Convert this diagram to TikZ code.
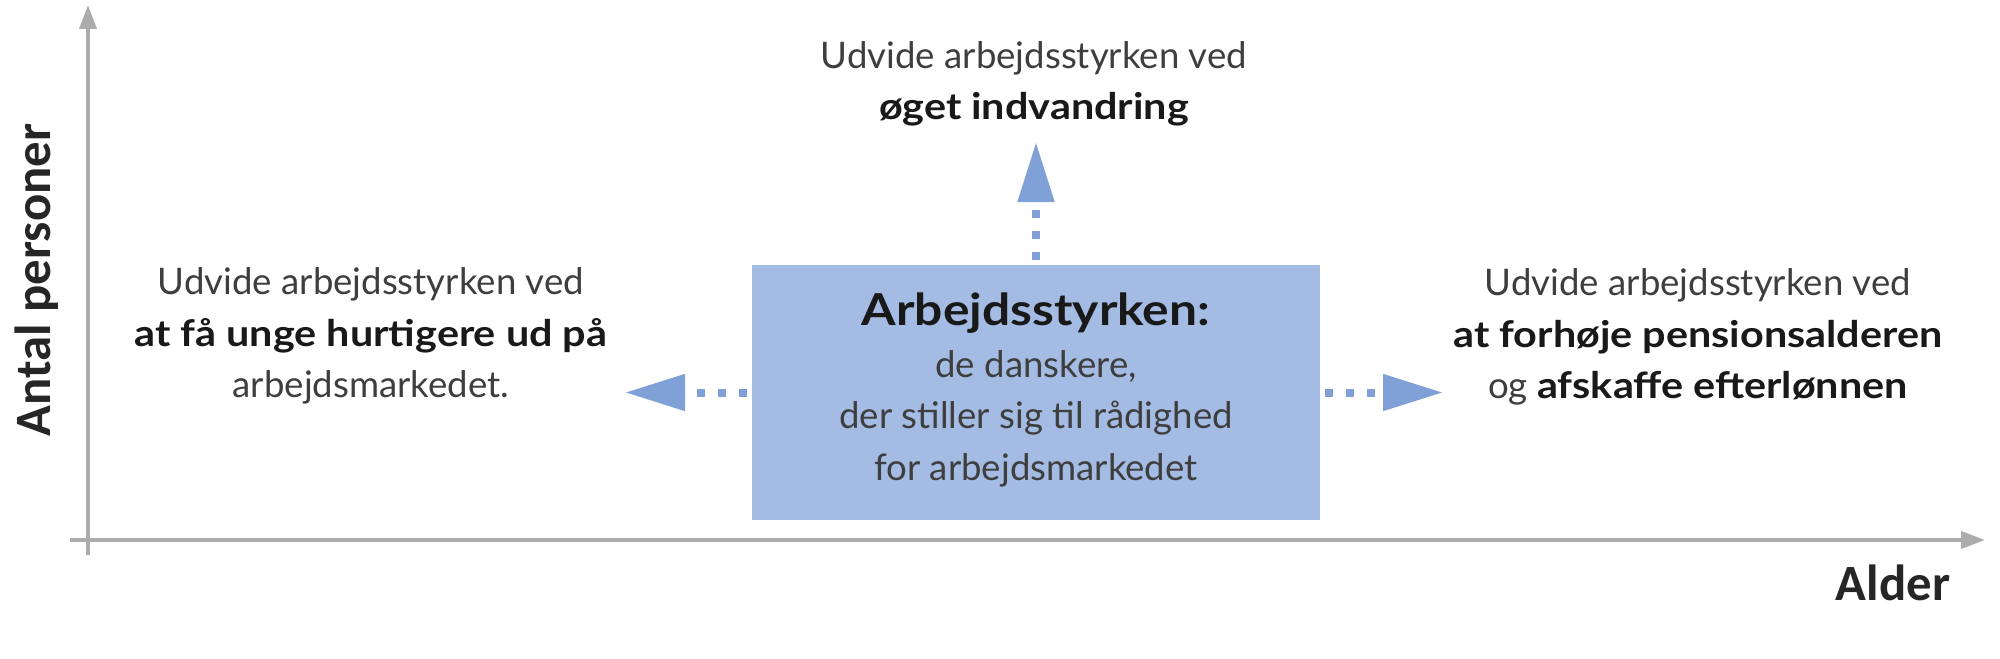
\documentclass[tikz,border=0pt]{standalone}
\usepackage{fontspec}
\setmainfont{Lato}
\newfontfamily\axisfont{Carlito}
\newfontfamily\bfwide{Lato}[FakeStretch=1.13]
\usetikzlibrary{arrows.meta}
\definecolor{boxblue}{RGB}{164,188,228}
\definecolor{arrowblue}{RGB}{128,160,216}
\definecolor{axisgray}{RGB}{172,172,172}
\definecolor{txtgray}{RGB}{62,62,62}
\newcommand{\boldtxt}[1]{\textcolor{black!90}{\bfwide\bfseries #1}}
\begin{document}
\begin{tikzpicture}[x=0.5pt,y=-0.5pt,
  lbl/.style={align=center, text=txtgray, font=\fontsize{18.3}{25.8}\selectfont, inner sep=0pt},
  axislbl/.style={font=\axisfont\bfseries\fontsize{25.4}{30}\selectfont, text=black!85, inner sep=0pt},
  axisline/.style={draw=axisgray, line width=2pt, -{Triangle[length=12pt,width=8.5pt]}},
  conn/.style={draw=arrowblue, line width=4pt, line cap=butt, dash pattern=on 4pt off 6.5pt, shorten <=2.5pt, -{Triangle[length=30pt,width=17.5pt]}},
  mainbox/.style={fill=boxblue, minimum width=284pt, minimum height=127.5pt, inner sep=0pt}
]
\useasboundingbox (0,0) rectangle (2000,658);
% axes
\coordinate (ybot) at (88,555);
\coordinate (ytop) at (88,5);
\coordinate (xleft) at (70,540);
\coordinate (xright) at (1985,540);
\draw[axisline] (ybot) -- (ytop);
\draw[axisline] (xleft) -- (xright);
\node[axislbl, rotate=90] (ylab) at (37,280) {Antal personer};
\node[axislbl] (xlab) at (1893,583) {Alder};
% central box
\node[mainbox] (box) at (1036,392.5) {};
\node[lbl] (boxtxt) at (1036,390) {{\fontsize{22}{25}\selectfont\boldtxt{Arbejdsstyrken:}}\\de danskere,\\der stiller sig til rådighed\\for arbejdsmarkedet};
% connectors
\coordinate (ltip) at (625,392.5);
\coordinate (rtip) at (1443,392.5);
\coordinate (utip) at (1036,142);
\draw[conn] (box.west) -- (ltip);
\draw[conn] (box.east) -- (rtip);
\draw[conn] (box.north) -- (utip);
% labels
\node[lbl] (toplbl) at (1034,84) {Udvide arbejdsstyrken ved\\\boldtxt{øget indvandring}};
\node[lbl] (leftlbl) at (371,336) {Udvide arbejdsstyrken ved\\\boldtxt{at få unge hurtigere ud på}\\arbejdsmarkedet.};
\node[lbl] (rightlbl) at (1698,337) {Udvide arbejdsstyrken ved\\\boldtxt{at forhøje pensionsalderen}\\og \boldtxt{afskaffe efterlønnen}};
\end{tikzpicture}
\end{document}
